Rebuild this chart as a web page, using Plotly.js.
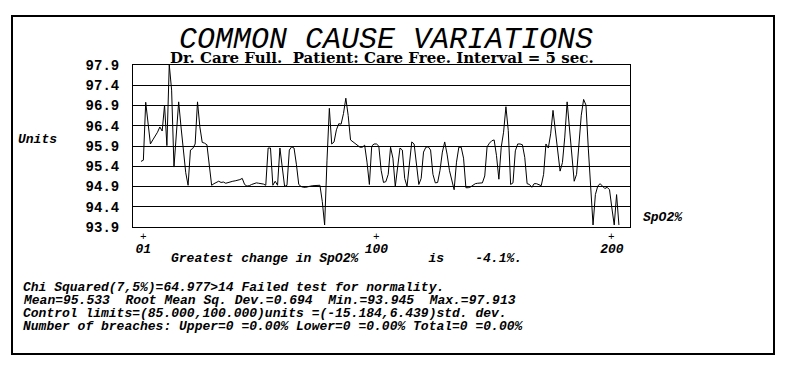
<!DOCTYPE html>
<html>
<head>
<meta charset="utf-8">
<script src="https://cdn.plot.ly/plotly-3.0.1.min.js"></script>
<style>html,body{margin:0;padding:0;background:#fff;}#chart{width:790px;height:372px;}</style>
</head>
<body>
<div id="chart"></div>
<script>
// ---- data ----
const spo2 = [
95.52,95.55,96.98,96.5,95.95,96.05,96.13,96.24,96.37,96.27,
96.91,95.91,97.91,97.28,95.38,96.2,96.99,96.37,95.7,95.24,
94.93,95.8,95.84,95.95,96.99,96.37,95.99,95.97,95.93,95.38,
94.93,94.97,95.0,95.03,95.0,95.01,94.98,95.0,95.01,95.03,
95.04,95.05,95.07,95.1,94.95,94.91,94.92,94.95,94.98,94.99,
94.98,94.97,94.96,94.93,95.85,95.85,94.93,95.03,94.93,95.85,
95.38,94.9,94.93,95.8,95.88,95.85,95.45,94.95,94.9,94.88,
94.88,94.9,94.91,94.92,94.92,94.92,94.93,94.53,93.95,95.55,
96.83,95.95,96.0,96.3,96.45,96.44,96.7,97.08,96.65,96.05,
96.0,95.95,95.9,95.87,95.87,95.92,95.5,94.95,95.9,95.95,
95.95,95.9,95.3,95.0,95.02,95.2,95.87,95.6,94.9,95.4,
95.85,95.8,95.1,94.9,95.4,96.0,95.95,95.5,94.95,95.1,
95.75,95.87,95.88,95.8,95.2,94.99,95.0,95.3,95.75,96.0,
95.7,95.3,95.05,94.82,95.5,95.87,95.87,95.6,94.87,94.87,
94.89,94.93,94.97,94.98,94.99,94.99,95.16,95.88,95.97,96.03,
96.05,95.66,95.08,95.87,96.24,96.87,96.28,94.95,94.99,95.78,
95.95,95.95,95.93,95.62,94.97,94.95,94.88,94.97,94.97,94.95,
94.92,95.2,95.95,95.85,96.2,96.78,96.24,95.78,95.28,95.49,
96.12,96.99,96.32,95.7,95.03,95.2,95.87,96.66,97.05,96.91,
95.83,94.82,93.95,94.7,94.91,94.97,94.91,94.85,94.88,94.82,
94.37,93.95,94.7,93.95
];
const sampleNo = spo2.map((v, i) => i);
const yTicks = [93.9, 94.4, 94.9, 95.4, 95.9, 96.4, 96.9, 97.4, 97.9];
const xTickVals = [1, 100, 200];
const xTickText = ['01', '100', '200'];
const titleText = 'COMMON CAUSE VARIATIONS';
const subtitleText = 'Dr. Care Full.\u00A0\u00A0Patient: Care Free. Interval = 5 sec.';
const changeText = 'Greatest change in SpO2%\u00A0\u00A0\u00A0\u00A0\u00A0\u00A0\u00A0\u00A0\u00A0is\u00A0\u00A0\u00A0\u00A0-4.1%.';
const statLines = [
  'Chi Squared(7,5%)=64.977>14 Failed test for normality.',
  'Mean=95.533\u00A0\u00A0Root Mean Sq. Dev.=0.694\u00A0\u00A0Min.=93.945\u00A0\u00A0Max.=97.913',
  'Control limits=(85.000,100.000)units =(-15.184,6.439)std. dev.',
  'Number of breaches: Upper=0 =0.00% Lower=0 =0.00% Total=0 =0.00%'
];

// ---- layout helpers ----
const L = 133, T = 65, W = 497, H = 162;
const px = X => (X - L) / W;
const py = Y => (T + H - Y) / H;
const mono = 'Liberation Mono, Courier New, monospace';
const biFont = {family: mono, size: 13, color: '#000', weight: 'bold', style: 'italic'};

const annotations = [];
annotations.push({text: subtitleText, xref: 'paper', yref: 'paper', x: px(382), y: py(58),
  xanchor: 'center', yanchor: 'middle', showarrow: false, borderpad: 0,
  font: {family: 'DejaVu Serif, serif', size: 15, color: '#000', weight: 'bold'}});
annotations.push({text: 'Units', xref: 'paper', yref: 'paper', x: px(16), y: py(139),
  xanchor: 'left', yanchor: 'middle', showarrow: false, font: biFont});
annotations.push({text: 'SpO2%', xref: 'paper', yref: 'paper', x: px(641), y: py(217),
  xanchor: 'left', yanchor: 'middle', showarrow: false, font: biFont});
annotations.push({text: changeText, xref: 'paper', yref: 'paper', x: px(170), y: py(258),
  xanchor: 'left', yanchor: 'middle', showarrow: false, borderpad: 0, font: biFont});
statLines.forEach((s, i) => annotations.push({text: s, xref: 'paper', yref: 'paper',
  x: px(22), y: py(287 + 13 * i), xanchor: 'left', yanchor: 'middle', showarrow: false,
  borderpad: 0, font: biFont}));
xTickVals.forEach(v => annotations.push({text: '+', xref: 'x', yref: 'paper', x: v, y: py(237),
  xanchor: 'center', yanchor: 'middle', showarrow: false, borderpad: 0,
  font: {family: mono, size: 11, color: '#000'}}));

const layout = {
  width: 790, height: 372,
  margin: {l: L, r: 790 - L - W, t: T, b: 372 - T - H, pad: 0},
  paper_bgcolor: '#fff', plot_bgcolor: '#fff',
  showlegend: false,
  title: {text: titleText, x: 386 / 790, xanchor: 'center', y: 1 - 37 / 372, yanchor: 'middle',
    font: {family: mono, size: 30, color: '#000', style: 'italic'}},
  xaxis: {range: [-3.4, 207.7], tickvals: xTickVals, ticktext: xTickText, showgrid: false,
    zeroline: false, showline: true, mirror: true, linecolor: '#000', linewidth: 1, ticks: '',
    ticklabelstandoff: 9, tickfont: biFont},
  yaxis: {range: [93.9, 97.9], tickvals: yTicks, ticktext: yTicks.map(v => v.toFixed(1)),
    showgrid: true, gridcolor: '#000', gridwidth: 1, zeroline: false, showline: true, mirror: true,
    linecolor: '#000', linewidth: 1, ticks: '', ticklabelstandoff: 10,
    tickfont: {family: mono, size: 14, color: '#000', weight: 'bold'}},
  shapes: [{type: 'rect', xref: 'paper', yref: 'paper', x0: px(12), x1: px(774), y0: py(354), y1: py(16),
    line: {color: '#000', width: 2}, fillcolor: 'rgba(0,0,0,0)', layer: 'below'}],
  annotations: annotations
};

Plotly.newPlot('chart', [{
  type: 'scatter', mode: 'lines', x: sampleNo, y: spo2,
  line: {color: '#000', width: 1}, hoverinfo: 'skip'
}], layout, {staticPlot: true, displayModeBar: false});
</script>
</body>
</html>
